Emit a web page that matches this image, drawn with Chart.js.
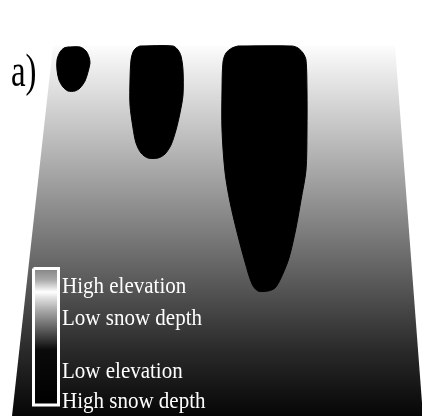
<!DOCTYPE html>
<html>
<head>
<meta charset="utf-8">
<style>
  html, body { margin: 0; padding: 0; background: #ffffff; overflow: hidden; }
  canvas { display: block; }
</style>
<script src="https://cdn.jsdelivr.net/npm/chart.js@4.4.1/dist/chart.umd.min.js"></script>
</head>
<body>
<canvas id="slope" width="422" height="416"></canvas>
<script>
// Plan-view grid: x across the slope, y down the slope (same units on both axes).

// Outline of the slope surface
const slopeX = [53, 395, 423, 12];
const slopeY = [46, 46, 416, 416];

// Deep-snow patches (outlines)
const patch1X = [68, 80, 86, 89, 90, 88, 85, 80, 75, 68, 63, 59, 57, 57, 60, 64];
const patch1Y = [47, 47, 51, 57, 63, 72, 81, 88, 91, 91, 87, 80, 70, 60, 52, 48];

const patch2X = [140, 173, 178, 181, 183, 183, 180, 176, 171, 165, 158, 148, 141, 136, 133, 130, 130, 131, 133, 136];
const patch2Y = [46, 46, 50, 56, 70, 95, 113, 130, 145, 154, 158, 158, 153, 143, 128, 105, 80, 60, 52, 48];

const patch3X = [238, 292, 298, 303, 306, 307, 307, 306, 301, 296, 289, 281, 275, 268, 258, 252, 245, 237, 230, 225, 222, 222, 223, 226, 232];
const patch3Y = [46, 46, 48, 53, 60, 90, 130, 170, 200, 228, 258, 278, 288, 291, 291, 284, 262, 232, 202, 172, 130, 90, 62, 53, 48];

// Colour-scale key box
const keyX = [33.5, 58.5, 58.5, 33.5];
const keyY = [268.5, 268.5, 405, 405];

// Grey ramp of the slope (down-slope position, grey level)
const rampPos = [46, 160, 290, 350, 416];
const rampGrey = [252, 175, 84, 42, 6];

// Grey ramp of the key (down-slope position, grey level)
const keyPos = [270, 280, 292, 298, 310, 327, 340, 350, 405];
const keyGrey = [136, 170, 255, 224, 170, 102, 51, 10, 0];

// Text
const keyLabels = ['High elevation', 'Low snow depth', 'Low elevation', 'High snow depth'];
const keyLabelY = [293, 325, 378, 408];
const panelLabel = 'a)';

function outline(xs, ys) {
  const pts = xs.map((x, i) => ({ x: x, y: ys[i] }));
  pts.push({ x: xs[0], y: ys[0] });
  return pts;
}

function verticalRamp(chart, pos, grey) {
  const area = chart.chartArea;
  const y = chart.scales.y;
  if (!area || !y) return '#808080';
  const p0 = y.getPixelForValue(pos[0]);
  const p1 = y.getPixelForValue(pos[pos.length - 1]);
  const g = chart.ctx.createLinearGradient(0, p0, 0, p1);
  pos.forEach((p, i) => {
    const v = Math.round(grey[i]);
    g.addColorStop((p - pos[0]) / (pos[pos.length - 1] - pos[0]), `rgb(${v},${v},${v})`);
  });
  return g;
}

const patchStyle = {
  fill: 'shape',
  backgroundColor: '#000000',
  borderColor: '#000000',
  borderWidth: 1,
  pointRadius: 0,
  tension: 0.3,
  order: 2
};

const labelPlugin = {
  id: 'slopeLabels',
  afterDatasetsDraw(chart, args, opts) {
    const { ctx, scales: { x, y } } = chart;
    for (const t of opts.items) {
      ctx.save();
      ctx.font = `${t.size}px "Liberation Serif", "Times New Roman", serif`;
      ctx.fillStyle = t.color;
      ctx.textBaseline = 'alphabetic';
      ctx.textAlign = 'left';
      ctx.translate(x.getPixelForValue(t.x), y.getPixelForValue(t.y));
      ctx.scale(t.sx, 1);
      ctx.fillText(t.text, 0, 0);
      ctx.restore();
    }
  }
};

const labelItems = keyLabels.map((text, i) => ({
  text: text, x: 62, y: keyLabelY[i], size: 24, sx: 0.875, color: '#ffffff'
}));
labelItems.push({ text: panelLabel, x: 11, y: 86, size: 47, sx: 0.7, color: '#000000' });

new Chart(document.getElementById('slope'), {
  type: 'line',
  data: {
    datasets: [
      {
        label: 'key',
        data: outline(keyX, keyY),
        fill: 'shape',
        backgroundColor: (c) => verticalRamp(c.chart, keyPos, keyGrey),
        borderColor: '#ffffff',
        borderWidth: 3,
        pointRadius: 0,
        tension: 0,
        order: 0
      },
      Object.assign({ label: 'patch 1', data: outline(patch1X, patch1Y) }, patchStyle),
      Object.assign({ label: 'patch 2', data: outline(patch2X, patch2Y) }, patchStyle),
      Object.assign({ label: 'patch 3', data: outline(patch3X, patch3Y) }, patchStyle),
      {
        label: 'slope',
        data: outline(slopeX, slopeY),
        fill: 'shape',
        backgroundColor: (c) => verticalRamp(c.chart, rampPos, rampGrey),
        borderColor: 'rgba(0,0,0,0)',
        borderWidth: 1,
        pointRadius: 0,
        tension: 0,
        order: 5
      }
    ]
  },
  options: {
    responsive: false,
    devicePixelRatio: 1,
    animation: false,
    layout: { padding: 0 },
    scales: {
      x: { type: 'linear', min: 0, max: 422, display: false },
      y: { type: 'linear', min: 0, max: 416, reverse: true, display: false }
    },
    plugins: {
      legend: { display: false },
      tooltip: { enabled: false },
      slopeLabels: { items: labelItems }
    }
  },
  plugins: [labelPlugin]
});
</script>
</body>
</html>
